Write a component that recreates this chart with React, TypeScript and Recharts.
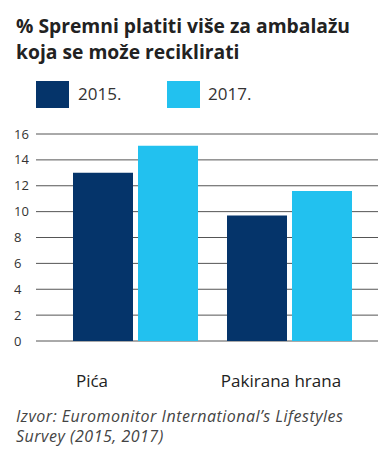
import React from "react"
import { Bar, BarChart, CartesianGrid, XAxis, YAxis } from "recharts"

const categories = ["Pića", "Pakirana hrana"]
const values2015 = [13.0, 9.7]
const values2017 = [15.1, 11.6]
const yTicks = [0, 2, 4, 6, 8, 10, 12, 14, 16]
const seriesNames = ["2015.", "2017."]
const titleLines = ["% Spremni platiti više za ambalažu", "koja se može reciklirati"]
const sourceLines = ["Izvor: Euromonitor International’s Lifestyles", "Survey (2015, 2017)"]

const NAVY = "#05346a"
const CYAN = "#22c1ef"

const data = categories.map((c, i) => ({ name: c, a: values2015[i], b: values2017[i] }))

const font = "'Open Sans', Lato, sans-serif"

function YTick(props: any) {
  const { y, payload } = props
  return (
    <text x={14} y={y} dy="0.35em" textAnchor="start" fontSize={13} fill="#333" fontFamily={font}>
      {payload.value}
    </text>
  )
}

function XTick(props: any) {
  const { x, y, payload, index } = props
  const shift = index === 0 ? -43 : -8
  return (
    <text x={x + shift} y={y + 38} textAnchor="middle" fontSize={17} fill="#222" fontFamily={font}>
      {payload.value}
    </text>
  )
}

export default function App() {
  const titleStyle: React.CSSProperties = { position: "absolute", left: 16, fontSize: 19.3, fontWeight: 700, lineHeight: "22px", height: 22, color: "#222", whiteSpace: "nowrap" }
  const srcStyle: React.CSSProperties = { position: "absolute", left: 16, fontSize: 16, letterSpacing: 0.5, fontStyle: "italic", lineHeight: "19px", height: 19, color: "#444", whiteSpace: "nowrap" }
  return (
    <div style={{ position: "absolute", left: 0, top: 0, width: 391, height: 462, background: "#fff", fontFamily: font }}>
      <div style={{ ...titleStyle, top: 15 }}>{titleLines[0]}</div>
      <div style={{ ...titleStyle, top: 41 }}>{titleLines[1]}</div>
      <div style={{ position: "absolute", left: 36, top: 81, width: 33, height: 27, background: NAVY }} />
      <div style={{ position: "absolute", left: 78, top: 82, fontSize: 17, color: "#333" }}>{seriesNames[0]}</div>
      <div style={{ position: "absolute", left: 167, top: 81, width: 33, height: 27, background: CYAN }} />
      <div style={{ position: "absolute", left: 208, top: 82, fontSize: 17, color: "#333" }}>{seriesNames[1]}</div>
      <div style={{ position: "absolute", left: 0, top: 120 }}>
        <BarChart width={391} height={280} data={data} margin={{ top: 14, right: 13, left: 0, bottom: 0 }} barGap={5} barCategoryGap={15}>
          <CartesianGrid vertical={false} stroke="#555" strokeWidth={1} />
          <XAxis dataKey="name" height={59} axisLine={false} tickLine={false} tick={<XTick />} padding={{ left: 22, right: 12 }} />
          <YAxis width={36} domain={[0, 16]} ticks={yTicks} axisLine={false} tickLine={false} tick={<YTick />} interval={0} />
          <Bar dataKey="a" fill={NAVY} isAnimationActive={false} />
          <Bar dataKey="b" fill={CYAN} isAnimationActive={false} />
        </BarChart>
      </div>
      <div style={{ ...srcStyle, top: 407 }}>{sourceLines[0]}</div>
      <div style={{ ...srcStyle, top: 427 }}>{sourceLines[1]}</div>
    </div>
  )
}
